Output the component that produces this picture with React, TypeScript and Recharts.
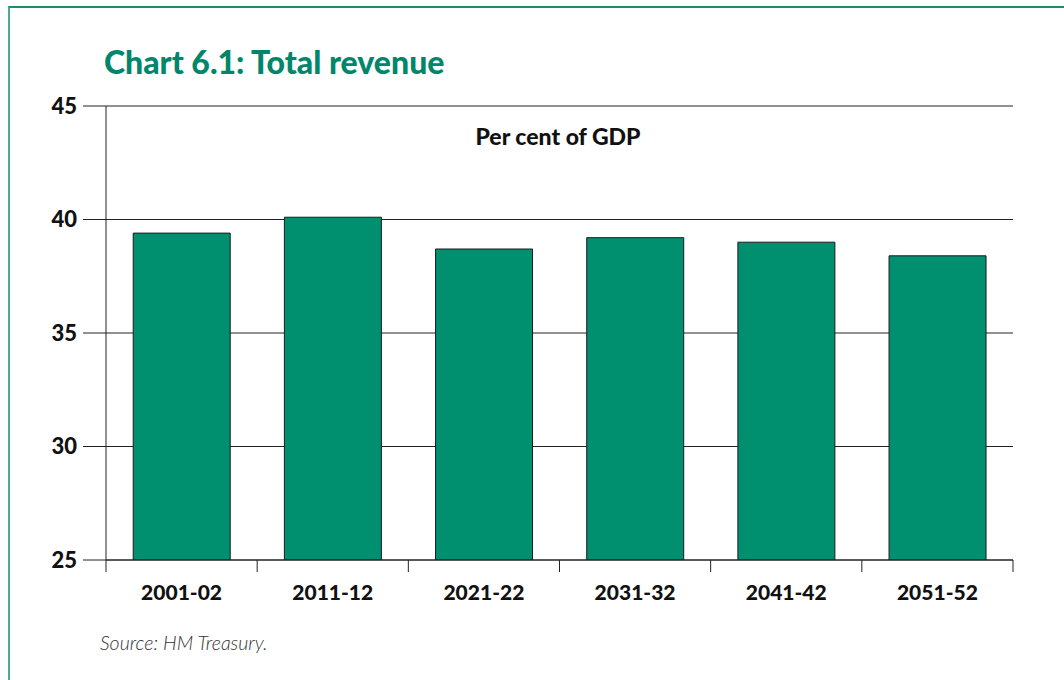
import React from 'react';
import { BarChart, Bar, XAxis, YAxis, CartesianGrid } from 'recharts';

const CATEGORIES = ['2001-02', '2011-12', '2021-22', '2031-32', '2041-42', '2051-52'];
const REVENUE = [39.4, 40.1, 38.7, 39.2, 39.0, 38.4];
const Y_TICKS = [25, 30, 35, 40, 45];
const TITLE = 'Chart 6.1: Total revenue';
const UNIT_LABEL = 'Per cent of GDP';
const SOURCE = 'Source: HM Treasury.';

const data = CATEGORIES.map((c, i) => ({ period: c, revenue: REVENUE[i] }));

const FONT = 'Lato, "DejaVu Sans", sans-serif';
const LINE = '#222';

function XTick(props: any) {
  const { x, y, payload, index, visibleTicksCount, width } = props;
  const half =
    payload && typeof payload.offset === 'number' && payload.offset > 0
      ? payload.offset
      : width / visibleTicksCount / 2;
  const left = x - half;
  const right = x + half;
  return (
    <g>
      <line x1={left} x2={left} y1={y} y2={y + 12} stroke={LINE} strokeWidth={1} />
      {index === visibleTicksCount - 1 && (
        <line x1={right} x2={right} y1={y} y2={y + 12} stroke={LINE} strokeWidth={1} />
      )}
      <text
        x={x}
        y={y + 40}
        textAnchor="middle"
        fontFamily={FONT}
        fontWeight={900}
        fontSize={21}
        fill="#111"
      >
        {payload.value}
      </text>
    </g>
  );
}

export default function App() {
  return (
    <div
      style={{
        position: 'fixed',
        left: 0,
        top: 0,
        width: 1064,
        height: 680,
        overflow: 'hidden',
        background: '#fff',
      }}
    >
      <div
        style={{
          position: 'absolute',
          left: 8,
          top: 6,
          width: 1100,
          height: 720,
          borderTop: '2px solid #1f8c6c',
          borderLeft: '2px solid #4dab8b',
        }}
      />
      <BarChart
        width={1064}
        height={680}
        data={data}
        margin={{ top: 106, right: 51, left: 36, bottom: 80 }}
        barCategoryGap="18%"
        style={{ position: 'absolute', left: 0, top: 0 }}
      >
        <CartesianGrid vertical={false} stroke={LINE} strokeWidth={1} />
        <XAxis
          dataKey="period"
          type="category"
          height={40}
          tickSize={0}
          tickMargin={0}
          axisLine={{ stroke: LINE }}
          tickLine={false}
          tick={<XTick />}
          interval={0}
        />
        <YAxis
          type="number"
          domain={[25, 45]}
          ticks={Y_TICKS}
          allowDataOverflow
          width={70}
          tickSize={23}
          tickMargin={6}
          axisLine={{ stroke: LINE }}
          tickLine={{ stroke: LINE }}
          tick={{ fontFamily: FONT, fontWeight: 900, fontSize: 22, fill: '#111' }}
        />
        <YAxis
          yAxisId="right"
          orientation="right"
          type="number"
          domain={[25, 45]}
          width={0}
          tick={false}
          tickLine={false}
          axisLine={{ stroke: LINE }}
        />
        <Bar
          dataKey="revenue"
          fill="#008f6f"
          stroke="#1c1c1c"
          strokeWidth={1}
          isAnimationActive={false}
        />
      </BarChart>
      <div
        style={{
          position: 'absolute',
          left: 104,
          top: 44,
          fontFamily: FONT,
          fontWeight: 900,
          fontSize: 32,
          color: '#00866a',
          lineHeight: '36px',
          whiteSpace: 'nowrap',
        }}
      >
        {TITLE}
      </div>
      <div
        style={{
          position: 'absolute',
          left: 358,
          width: 400,
          top: 122,
          textAlign: 'center',
          fontFamily: FONT,
          fontWeight: 900,
          fontSize: 23,
          color: '#111',
          lineHeight: '28px',
        }}
      >
        {UNIT_LABEL}
      </div>
      <div
        style={{
          position: 'absolute',
          left: 100,
          top: 632,
          fontFamily: FONT,
          fontStyle: 'italic',
          fontWeight: 300,
          fontSize: 19.5,
          color: '#333',
          lineHeight: '22px',
          whiteSpace: 'nowrap',
        }}
      >
        {SOURCE}
      </div>
    </div>
  );
}
